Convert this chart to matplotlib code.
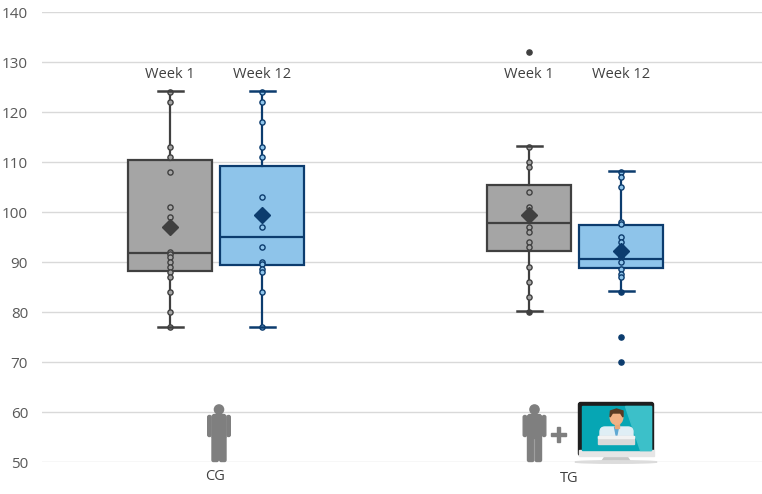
import matplotlib.pyplot as plt
from matplotlib.patches import FancyBboxPatch, Rectangle, Circle, Polygon, Ellipse

plt.rcParams['font.family'] = ['Open Sans', 'DejaVu Sans']

groups = ['CG', 'TG']
weeks = ['Week 1', 'Week 12']

# raw points
cg_w1 = [124, 122, 113, 111, 108, 101, 99, 92, 91.5, 91, 90, 89, 88, 87, 84, 80, 77]
cg_w12 = [124, 122, 118, 113, 111, 103, 99.5, 97, 93, 90, 89.5, 88.5, 88, 84, 77]
tg_w1 = [132, 113, 110, 109, 104, 101, 100, 99, 97, 96, 94, 93, 89, 86, 83, 80]
tg_w12 = [108, 107, 105, 98, 97.5, 95, 94, 93, 92, 91, 90, 88.5, 87.5, 87, 84, 75, 70]
series = [cg_w1, cg_w12, tg_w1, tg_w12]

# box statistics as drawn
medians = [91.7, 95.0, 97.7, 90.6]
q1s = [88.2, 89.3, 92.1, 88.7]
q3s = [110.4, 109.2, 105.3, 97.3]
whis_lo = [77, 77, 80.2, 84.2]
whis_hi = [124.2, 124.2, 113.1, 108.2]
means = [96.9, 99.3, 99.3, 92.1]

yticks = list(range(50, 141, 10))

gray_fill, gray_edge = '#a5a5a5', '#404040'
blue_fill, blue_edge = '#8ec4ea', '#0c3c6e'
fills = [gray_fill, blue_fill, gray_fill, blue_fill]
edges = [gray_edge, blue_edge, gray_edge, blue_edge]

fig = plt.figure(figsize=(7.62, 4.94), dpi=100)
ax = fig.add_axes([42 / 762, 32 / 494, 720 / 762, 450 / 494])

# x axis in pixel-like units
group_centers = [216, 575]
offset = 46
positions = []
for c in group_centers:
    positions += [c - offset, c + offset]

for i in range(4):
    st = dict(med=medians[i], q1=q1s[i], q3=q3s[i], whislo=whis_lo[i],
              whishi=whis_hi[i], mean=means[i], fliers=[])
    ax.bxp([st], positions=[positions[i]], widths=84, capwidths=25,
           patch_artist=True, showmeans=True, showfliers=False,
           boxprops=dict(facecolor=fills[i], edgecolor=edges[i], linewidth=1.6),
           medianprops=dict(color=edges[i], linewidth=1.6),
           whiskerprops=dict(color=edges[i], linewidth=1.6),
           capprops=dict(color=edges[i], linewidth=1.8, zorder=5),
           meanprops=dict(marker='D', markerfacecolor=edges[i],
                          markeredgecolor=edges[i], markersize=8.5, zorder=6))
    inside = [v for v in series[i] if whis_lo[i] <= v <= whis_hi[i]]
    outside = [v for v in series[i] if v < whis_lo[i] or v > whis_hi[i]]
    ax.scatter([positions[i]] * len(inside), inside, s=14, facecolor=fills[i],
               edgecolor=edges[i], linewidth=1.0, zorder=4)
    ax.scatter([positions[i]] * len(outside), outside, s=14, facecolor=edges[i],
               edgecolor=edges[i], linewidth=1.0, zorder=4)
    ax.text(positions[i], 127.4, weeks[i % 2], ha='center', va='center',
            fontsize=10.5, color='#404040')

ax.set_xlim(42, 762)
ax.set_ylim(50, 140)
ax.set_yticks(yticks)
ax.set_xticks([])
ax.grid(axis='y', color='#d9d9d9', linewidth=1)
ax.set_axisbelow(True)
for s in ax.spines.values():
    s.set_visible(False)
ax.tick_params(axis='y', length=0, labelsize=11, labelcolor='#595959', pad=10)

# overlay in pixel coordinates for labels and icons
ov = fig.add_axes([0, 0, 1, 1])
ov.set_xlim(0, 762)
ov.set_ylim(494, 0)
ov.axis('off')
ov.patch.set_alpha(0)

ov.text(215, 476, groups[0], ha='center', va='center', fontsize=10.5, color='#404040')
ov.text(569, 478, groups[1], ha='center', va='center', fontsize=10.5, color='#404040')


def person(cx):
    c = '#7f7f7f'
    ov.add_patch(Circle((cx, 409.5), 4.6, color=c))
    # torso
    ov.add_patch(FancyBboxPatch((cx - 7, 414.5), 14, 24, boxstyle='round,pad=0,rounding_size=2.5', color=c))
    # arms
    ov.add_patch(FancyBboxPatch((cx - 11.3, 415.5), 3.4, 21, boxstyle='round,pad=0,rounding_size=1.6', color=c))
    ov.add_patch(FancyBboxPatch((cx + 7.9, 415.5), 3.4, 21, boxstyle='round,pad=0,rounding_size=1.6', color=c))
    # legs
    ov.add_patch(FancyBboxPatch((cx - 7, 436), 6.3, 25.5, boxstyle='round,pad=0,rounding_size=1.5', color=c))
    ov.add_patch(FancyBboxPatch((cx + 0.7, 436), 6.3, 25.5, boxstyle='round,pad=0,rounding_size=1.5', color=c))


person(219)
person(534.5)

# plus sign
ov.add_patch(Rectangle((551, 432.5), 14.5, 3.6, color='#7f7f7f'))
ov.add_patch(Rectangle((556.5, 427), 3.6, 14.5, color='#7f7f7f'))

# monitor
ov.add_patch(Polygon([[606, 455], [626, 455], [630, 461], [602, 461]], color='#c8c8c8'))
ov.add_patch(Ellipse((616, 462), 82, 2.5, color='#dcdcdc'))
ov.add_patch(FancyBboxPatch((578.5, 402.5), 75, 53, boxstyle='round,pad=0,rounding_size=2', color='#1e1e1e'))
ov.add_patch(Rectangle((578.5, 449.5), 75, 6, color='#e6e6e6'))
ov.add_patch(Rectangle((581.5, 405.5), 69, 44, color='#06a6b4'))
ov.add_patch(Polygon([[625, 405.5], [650.5, 405.5], [650.5, 449.5], [640, 449.5]], color='#3cc0c9'))
# agent
ov.add_patch(FancyBboxPatch((600, 427), 33, 15, boxstyle='round,pad=0,rounding_size=5', color='#dfeef5'))
ov.add_patch(Polygon([[614.5, 427], [618.5, 427], [616.5, 437]], color='#5fa8d3'))
ov.add_patch(Rectangle((614.5, 423), 4, 4.5, color='#e9a878'))
ov.add_patch(Ellipse((616.5, 417.5), 12.5, 14, color='#f1b184'))
ov.add_patch(Polygon([[610, 417], [610.5, 411], [616.5, 409], [623, 411], [623, 417],
                      [620.5, 413], [612.5, 413]], color='#5a3a22'))
ov.add_patch(Rectangle((598, 436), 36, 8, color='#d9d9d9'))
ov.add_patch(Rectangle((598, 436), 36, 1.5, color='#f2f2f2'))

fig.savefig('out.png', dpi=100)
